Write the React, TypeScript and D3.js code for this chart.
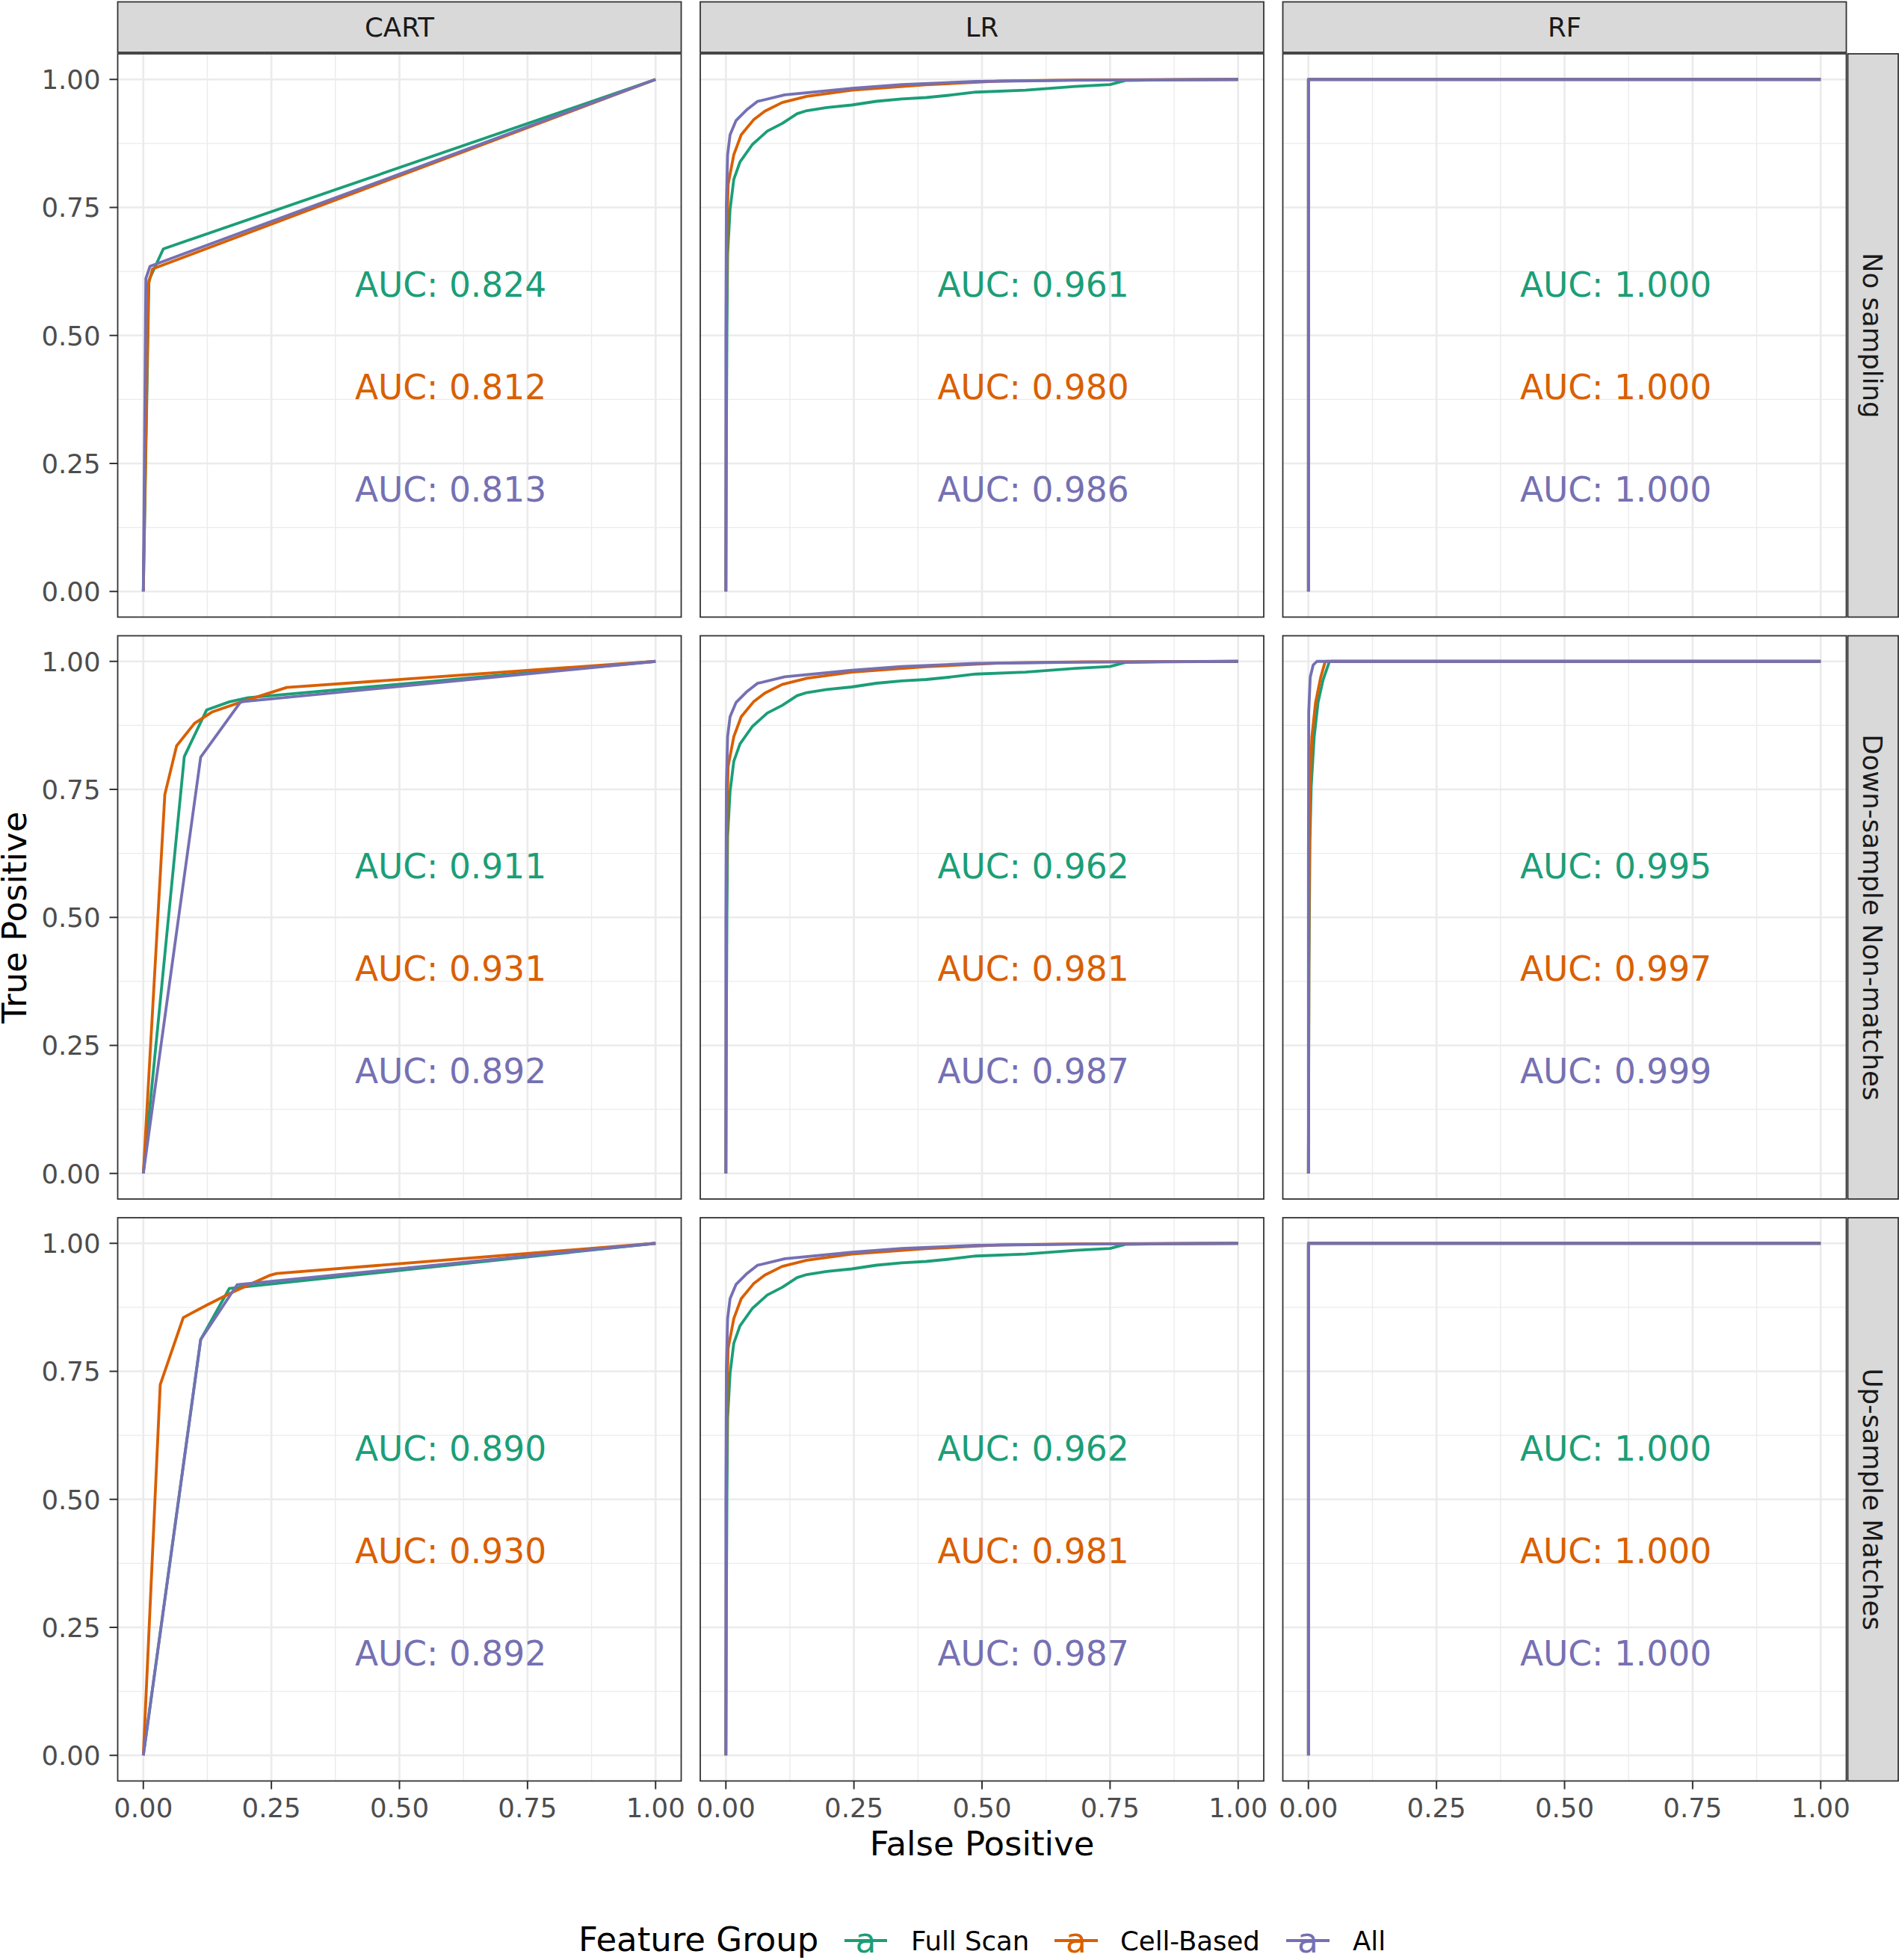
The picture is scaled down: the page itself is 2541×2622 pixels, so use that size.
import React from "react";
import * as d3 from "d3";

const MODELS = ["CART", "LR", "RF"];
const SAMPLINGS = ["No sampling", "Down-sample Non-matches", "Up-sample Matches"];
const GROUPS = ["Full Scan", "Cell-Based", "All"];
const GROUP_COLORS = ["#1B9E77", "#D95F02", "#7570B3"];
const TICKS = [0, 0.25, 0.5, 0.75, 1];
const TICK_LABELS = ["0.00", "0.25", "0.50", "0.75", "1.00"];
const MINOR_TICKS = [0.125, 0.375, 0.625, 0.875];

// AUC per sampling (rows) x group (Full Scan, Cell-Based, All)
const AUC_CART = [[0.824, 0.812, 0.813], [0.911, 0.931, 0.892], [0.890, 0.930, 0.892]];
const AUC_LR = [[0.961, 0.980, 0.986], [0.962, 0.981, 0.987], [0.962, 0.981, 0.987]];
const AUC_RF = [[1.0, 1.0, 1.0], [0.995, 0.997, 0.999], [1.0, 1.0, 1.0]];

// ROC curves: [false positive, true positive]
const CART_NO_FULL = [[0, 0], [0.011, 0.608], [0.039, 0.669], [1, 1]];
const CART_NO_CELL = [[0, 0], [0.010, 0.600], [0.018, 0.630], [1, 1]];
const CART_NO_ALL = [[0, 0], [0.005, 0.611], [0.013, 0.635], [1, 1]];

const CART_DOWN_FULL = [[0, 0], [0.080, 0.814], [0.1235, 0.905], [0.168, 0.921], [0.2045, 0.929], [1, 1]];
const CART_DOWN_CELL = [[0, 0], [0.042, 0.740], [0.065, 0.835], [0.100, 0.879], [0.134, 0.901], [0.192, 0.921], [0.280, 0.949], [1, 1]];
const CART_DOWN_ALL = [[0, 0], [0.112, 0.813], [0.190, 0.921], [1, 1]];

const CART_UP_FULL = [[0, 0], [0.112, 0.812], [0.168, 0.912], [1, 1]];
const CART_UP_CELL = [[0, 0], [0.033, 0.724], [0.078, 0.855], [0.125, 0.880], [0.173, 0.904], [0.2456, 0.937], [0.260, 0.941], [1, 1]];
const CART_UP_ALL = [[0, 0], [0.112, 0.812], [0.183, 0.919], [1, 1]];

const LR_FULL = [[0, 0], [0.001, 0.30], [0.002, 0.50], [0.0034, 0.659], [0.0082, 0.746], [0.0155, 0.805], [0.0276, 0.839], [0.0518, 0.873], [0.0809, 0.899], [0.110, 0.914], [0.139, 0.933], [0.158, 0.939], [0.197, 0.945], [0.2455, 0.950], [0.294, 0.9573], [0.343, 0.962], [0.391, 0.9646], [0.439, 0.9694], [0.488, 0.9752], [0.585, 0.979], [0.682, 0.9864], [0.75, 0.990], [0.78, 0.998], [0.85, 0.999], [1, 1]];
const LR_CELL = [[0, 0], [0.001, 0.50], [0.0025, 0.72], [0.0044, 0.795], [0.0155, 0.853], [0.030, 0.892], [0.054, 0.921], [0.076, 0.938], [0.110, 0.955], [0.158, 0.967], [0.246, 0.979], [0.391, 0.9895], [0.536, 0.997], [0.7, 0.999], [1, 1]];
const LR_ALL = [[0, 0], [0, 0.50], [0.001, 0.756], [0.0034, 0.853], [0.0082, 0.892], [0.020, 0.920], [0.040, 0.940], [0.0615, 0.957], [0.115, 0.970], [0.246, 0.9825], [0.343, 0.990], [0.488, 0.996], [0.682, 0.9985], [1, 1]];

const RF_PERFECT = [[0, 0], [0, 1], [1, 1]];
const RF_DOWN_FULL = [[0, 0], [0.001, 0.40], [0.003, 0.65], [0.0054, 0.755], [0.0112, 0.852], [0.0188, 0.920], [0.0286, 0.964], [0.0407, 0.999], [0.045, 1], [1, 1]];
const RF_DOWN_CELL = [[0, 0], [0.001, 0.45], [0.002, 0.65], [0.0035, 0.755], [0.0067, 0.852], [0.014, 0.920], [0.024, 0.969], [0.0325, 0.999], [0.035, 1], [1, 1]];
const RF_DOWN_ALL = [[0, 0], [0, 0.60], [0.0003, 0.755], [0.0006, 0.901], [0.0035, 0.969], [0.0093, 0.993], [0.0165, 1], [1, 1]];

const CURVES: Record<string, number[][][][]> = {
  CART: [
    [CART_NO_FULL, CART_NO_CELL, CART_NO_ALL],
    [CART_DOWN_FULL, CART_DOWN_CELL, CART_DOWN_ALL],
    [CART_UP_FULL, CART_UP_CELL, CART_UP_ALL],
  ],
  LR: [
    [LR_FULL, LR_CELL, LR_ALL],
    [LR_FULL, LR_CELL, LR_ALL],
    [LR_FULL, LR_CELL, LR_ALL],
  ],
  RF: [
    [RF_PERFECT, RF_PERFECT, RF_PERFECT],
    [RF_DOWN_FULL, RF_DOWN_CELL, RF_DOWN_ALL],
    [RF_PERFECT, RF_PERFECT, RF_PERFECT],
  ],
};
const AUCS: Record<string, number[][]> = { CART: AUC_CART, LR: AUC_LR, RF: AUC_RF };

const W = 2541;
const H = 2622;
const PANEL_W = 754;
const PANEL_H = 753.5;
const COL_LEFT = [157.5, 937, 1716.5];
const ROW_TOP = [72, 850.5, 1629];
const FONT = "DejaVu Sans";
const GRID = "#EBEBEB";
const DARK = "#333333";
const SMALL = 35.5;
const BIG = 45;
const AUC_SIZE = 45.5;

export default function App() {
  const lineGen = d3.line<number[]>();
  const panels: React.ReactNode[] = [];

  ROW_TOP.forEach((top, r) => {
    COL_LEFT.forEach((left, c) => {
      const model = MODELS[c];
      const x = d3.scaleLinear().domain([-0.05, 1.05]).range([left, left + PANEL_W]);
      const y = d3.scaleLinear().domain([-0.05, 1.05]).range([top + PANEL_H, top]);
      lineGen.x((d) => x(d[0])).y((d) => y(d[1]));
      const curves = CURVES[model][r];
      const aucs = AUCS[model][r];
      panels.push(
        <g key={`p-${r}-${c}`}>
          <rect x={left} y={top} width={PANEL_W} height={PANEL_H} fill="#FFFFFF" />
          {MINOR_TICKS.map((t) => (
            <g key={`mn-${t}`}>
              <line x1={x(t)} x2={x(t)} y1={top} y2={top + PANEL_H} stroke={GRID} strokeWidth={1.4} />
              <line x1={left} x2={left + PANEL_W} y1={y(t)} y2={y(t)} stroke={GRID} strokeWidth={1.4} />
            </g>
          ))}
          {TICKS.map((t) => (
            <g key={`mj-${t}`}>
              <line x1={x(t)} x2={x(t)} y1={top} y2={top + PANEL_H} stroke={GRID} strokeWidth={2.7} />
              <line x1={left} x2={left + PANEL_W} y1={y(t)} y2={y(t)} stroke={GRID} strokeWidth={2.7} />
            </g>
          ))}
          {curves.map((pts, g) => (
            <path key={`c-${g}`} d={lineGen(pts) || ""} fill="none" stroke={GROUP_COLORS[g]} strokeWidth={3.8} strokeLinejoin="round" />
          ))}
          {aucs.map((a, g) => (
            <text key={`t-${g}`} x={x(0.6)} y={y(0.6 - 0.2 * g) + 0.729 * AUC_SIZE / 2} textAnchor="middle" fontFamily={FONT} fontSize={AUC_SIZE} fill={GROUP_COLORS[g]}>
              {`AUC: ${a.toFixed(3)}`}
            </text>
          ))}
          <rect x={left} y={top} width={PANEL_W} height={PANEL_H} fill="none" stroke={DARK} strokeWidth={1.8} />
          {c === 0 &&
            TICKS.map((t, i) => (
              <g key={`yt-${t}`}>
                <line x1={left - 11} x2={left} y1={y(t)} y2={y(t)} stroke={DARK} strokeWidth={2} />
                <text x={left - 23} y={y(t) + 0.729 * SMALL / 2} textAnchor="end" fontFamily={FONT} fontSize={SMALL} fill="#4D4D4D">
                  {TICK_LABELS[i]}
                </text>
              </g>
            ))}
          {r === 2 &&
            TICKS.map((t, i) => (
              <g key={`xt-${t}`}>
                <line x1={x(t)} x2={x(t)} y1={top + PANEL_H} y2={top + PANEL_H + 11} stroke={DARK} strokeWidth={2} />
                <text x={x(t)} y={2430.5} textAnchor="middle" fontFamily={FONT} fontSize={SMALL} fill="#4D4D4D">
                  {TICK_LABELS[i]}
                </text>
              </g>
            ))}
        </g>
      );
    });
  });

  const topStrips = COL_LEFT.map((left, c) => (
    <g key={`ts-${c}`}>
      <rect x={left} y={2.5} width={PANEL_W} height={67.5} fill="#D9D9D9" stroke={DARK} strokeWidth={1.8} />
      <text x={left + PANEL_W / 2} y={36.3 + 0.729 * SMALL / 2} textAnchor="middle" fontFamily={FONT} fontSize={SMALL} fill="#1A1A1A">
        {MODELS[c]}
      </text>
    </g>
  ));

  const rightStrips = ROW_TOP.map((top, r) => (
    <g key={`rs-${r}`}>
      <rect x={2472.5} y={top} width={67.5} height={PANEL_H} fill="#D9D9D9" stroke={DARK} strokeWidth={1.8} />
      <text
        transform={`translate(2506,${top + PANEL_H / 2}) rotate(90)`}
        y={0.729 * SMALL / 2}
        textAnchor="middle"
        fontFamily={FONT}
        fontSize={SMALL}
        fill="#1A1A1A"
      >
        {SAMPLINGS[r]}
      </text>
    </g>
  ));

  const legendKeys = [
    { x0: 1130, x1: 1187, tx: 1219 },
    { x0: 1411, x1: 1469, tx: 1499 },
    { x0: 1721, x1: 1779, tx: 1810 },
  ];

  return (
    <svg width={W} height={H} style={{ position: "absolute", left: 0, top: 0, background: "#FFFFFF" }}>
      <rect x={0} y={0} width={W} height={H} fill="#FFFFFF" />
      {panels}
      {topStrips}
      {rightStrips}
      <text x={(COL_LEFT[0] + COL_LEFT[2] + PANEL_W) / 2} y={2466 + 0.729 * BIG / 2} textAnchor="middle" fontFamily={FONT} fontSize={BIG} fill="#000000">
        False Positive
      </text>
      <text transform={`translate(18.5,${(ROW_TOP[0] + ROW_TOP[2] + PANEL_H) / 2}) rotate(-90)`} y={0.729 * BIG / 2} textAnchor="middle" fontFamily={FONT} fontSize={BIG} fill="#000000">
        True Positive
      </text>
      <text x={774} y={2610} fontFamily={FONT} fontSize={BIG} fill="#000000">
        Feature Group
      </text>
      {GROUPS.map((g, i) => (
        <g key={`lg-${i}`}>
          <line x1={legendKeys[i].x0} x2={legendKeys[i].x1} y1={2596} y2={2596} stroke={GROUP_COLORS[i]} strokeWidth={3.8} />
          <text x={(legendKeys[i].x0 + legendKeys[i].x1) / 2} y={2612} textAnchor="middle" fontFamily={FONT} fontSize={AUC_SIZE} fill={GROUP_COLORS[i]}>
            a
          </text>
          <text x={legendKeys[i].tx} y={2596 + 0.729 * SMALL / 2} fontFamily={FONT} fontSize={SMALL} fill="#000000">
            {g}
          </text>
        </g>
      ))}
    </svg>
  );
}
